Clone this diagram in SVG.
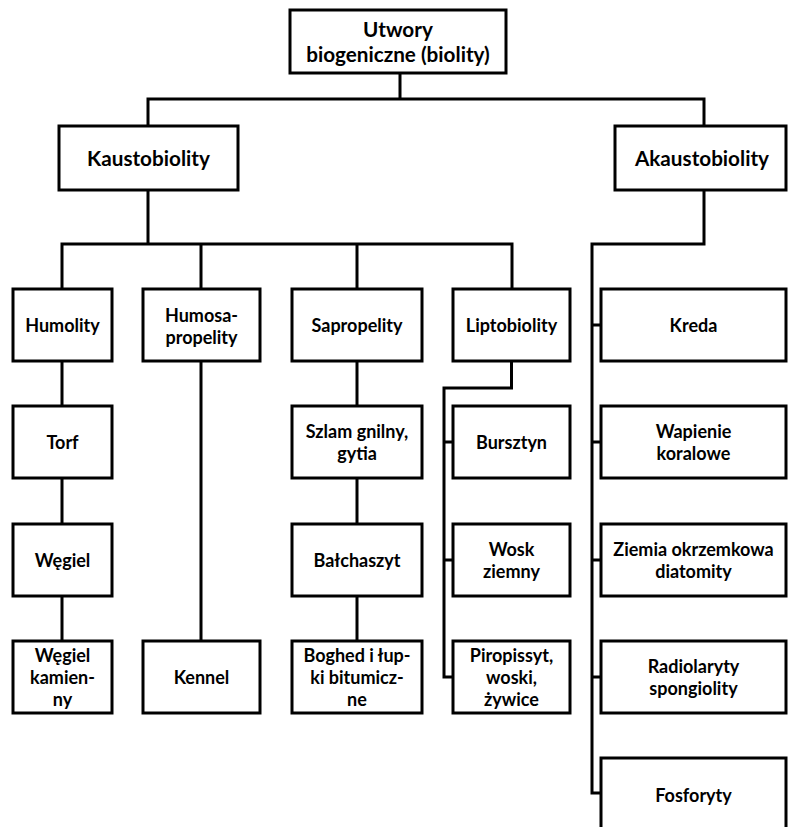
<svg xmlns="http://www.w3.org/2000/svg" width="789" height="827" viewBox="0 0 789 827">
<style>
.box{fill:#fff;stroke:#000;stroke-width:3}
.c{fill:none;stroke:#000;stroke-width:3;stroke-linejoin:miter}
.t{font-family:Lato,"Liberation Sans",sans-serif;font-weight:700;font-size:18px;text-anchor:middle;fill:#000}
.b{font-size:20.7px}
</style>
<rect width="789" height="827" fill="#fff"/>
<g id="connectors">
<path class="c" d="M400,73V99M148,126V99H704V126"/>
<path class="c" d="M148,190V244M62,289V244H512V289M201,244V289M357,244V289"/>
<path class="c" d="M62,361V406M62,478V524M62,596V641"/>
<path class="c" d="M201,361V641"/>
<path class="c" d="M357,361V406M357,478V524M357,596V641"/>
<path class="c" d="M511.5,361V388H444V677H453M444,442H453M444,560H453"/>
<path class="c" d="M704,190V244H592V793H601M592,325H601M592,442H601M592,560H601M592,677H601"/>
</g>
<g id="n-root"><rect class="box" x="290" y="10" width="216" height="63"/><text class="t b" x="398" y="37">Utwory</text><text class="t b" x="398" y="62">biogeniczne (biolity)</text></g>
<g id="n-kausto"><rect class="box" x="59" y="126" width="179" height="64"/><text class="t b" x="148.5" y="166">Kaustobiolity</text></g>
<g id="n-akausto"><rect class="box" x="615" y="126" width="171" height="64"/><text class="t b" x="702" y="166">Akaustobiolity</text></g>

<g id="n-humolity"><rect class="box" x="13" y="289" width="99" height="72"/><text class="t" x="62.5" y="331.5">Humolity</text></g>
<g id="n-humosa"><rect class="box" x="143" y="289" width="117" height="72"/><text class="t" x="201.5" y="321.5">Humosa-</text><text class="t" x="201.5" y="343.5">propelity</text></g>
<g id="n-sapro"><rect class="box" x="292" y="289" width="130" height="72"/><text class="t" x="357" y="331.5">Sapropelity</text></g>
<g id="n-lipto"><rect class="box" x="453" y="289" width="117" height="72"/><text class="t" x="511.5" y="331.5">Liptobiolity</text></g>
<g id="n-kreda"><rect class="box" x="601" y="289" width="185" height="72"/><text class="t" x="693.5" y="331.5">Kreda</text></g>

<g id="n-torf"><rect class="box" x="13" y="406" width="99" height="72"/><text class="t" x="62.5" y="448.5">Torf</text></g>
<g id="n-szlam"><rect class="box" x="292" y="406" width="130" height="72"/><text class="t" x="357" y="437.5">Szlam gnilny,</text><text class="t" x="357" y="459.5">gytia</text></g>
<g id="n-bursztyn"><rect class="box" x="453" y="406" width="117" height="72"/><text class="t" x="511.5" y="448.5">Bursztyn</text></g>
<g id="n-wapienie"><rect class="box" x="601" y="406" width="185" height="72"/><text class="t" x="693.5" y="437.5">Wapienie</text><text class="t" x="693.5" y="459.5">koralowe</text></g>

<g id="n-wegiel"><rect class="box" x="13" y="524" width="99" height="72"/><text class="t" x="62.5" y="566.5">Węgiel</text></g>
<g id="n-balchaszyt"><rect class="box" x="292" y="524" width="130" height="72"/><text class="t" x="357" y="566.5">Bałchaszyt</text></g>
<g id="n-wosk"><rect class="box" x="453" y="524" width="117" height="72"/><text class="t" x="511.5" y="555.5">Wosk</text><text class="t" x="511.5" y="577.5">ziemny</text></g>
<g id="n-ziemia"><rect class="box" x="601" y="524" width="185" height="72"/><text class="t" x="693.5" y="555.5">Ziemia okrzemkowa</text><text class="t" x="693.5" y="577.5">diatomity</text></g>

<g id="n-wegielk"><rect class="box" x="13" y="641" width="99" height="72"/><text class="t" x="62.5" y="661.5">Węgiel</text><text class="t" x="62.5" y="683.5">kamien-</text><text class="t" x="62.5" y="705.5">ny</text></g>
<g id="n-kennel"><rect class="box" x="143" y="641" width="117" height="72"/><text class="t" x="201.5" y="683.5">Kennel</text></g>
<g id="n-boghed"><rect class="box" x="292" y="641" width="130" height="72"/><text class="t" x="357" y="661.5">Boghed i łup-</text><text class="t" x="357" y="683.5">ki bitumicz-</text><text class="t" x="357" y="705.5">ne</text></g>
<g id="n-piro"><rect class="box" x="453" y="641" width="117" height="72"/><text class="t" x="511.5" y="661.5">Piropissyt,</text><text class="t" x="511.5" y="683.5">woski,</text><text class="t" x="511.5" y="705.5">żywice</text></g>
<g id="n-radio"><rect class="box" x="601" y="641" width="185" height="72"/><text class="t" x="693.5" y="672.5">Radiolaryty</text><text class="t" x="693.5" y="694.5">spongiolity</text></g>

<g id="n-fosfo"><rect class="box" x="601" y="758" width="185" height="80"/><text class="t" x="693.5" y="802">Fosforyty</text></g>
</svg>
